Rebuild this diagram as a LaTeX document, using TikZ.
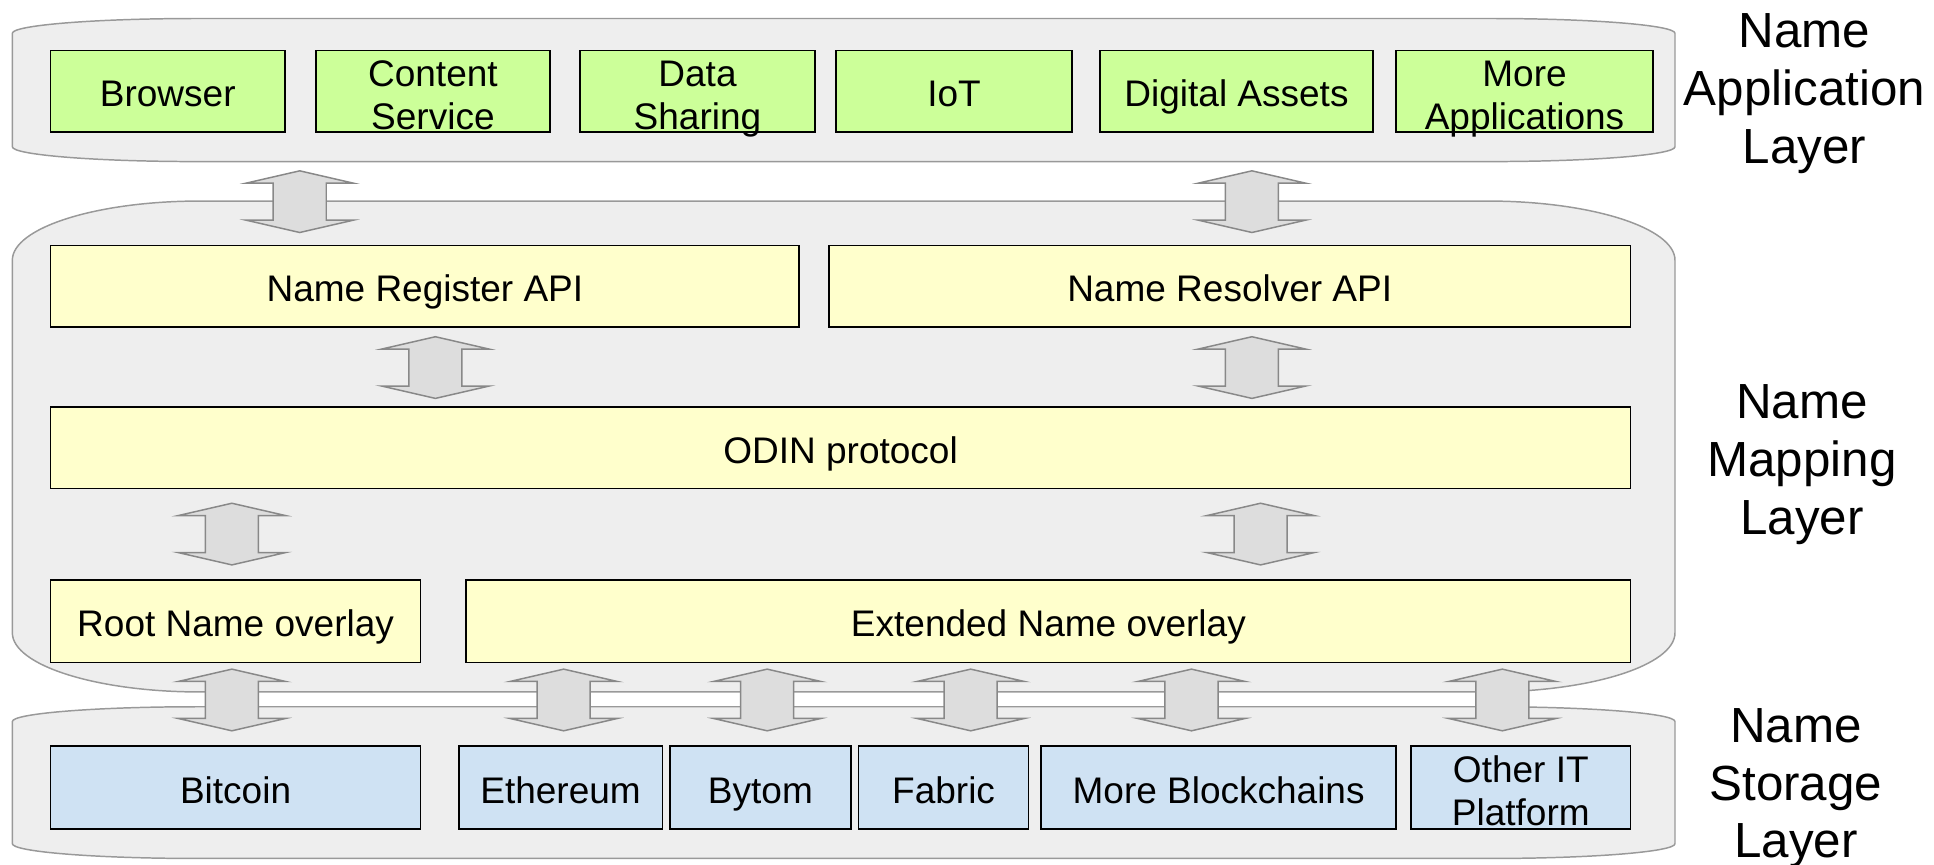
\documentclass[tikz,border=0pt]{standalone}
\usepackage{fontspec}
\setmainfont{Liberation Sans}

\definecolor{layerfill}{HTML}{EEEEEE}
\definecolor{layerline}{HTML}{999999}
\definecolor{appgreen}{HTML}{CCFF99}
\definecolor{mapyellow}{HTML}{FFFFCC}
\definecolor{storeblue}{HTML}{CFE2F3}
\definecolor{arrowfill}{HTML}{DDDDDD}
\definecolor{arrowline}{HTML}{888888}

% layer band: x1, y1, x2, y2, corner x radius, corner y radius
\newcommand{\layerband}[6]{%
	\filldraw [layer] (#1, #2 + #6) .. controls (#1, #2 + 0.45*#6) and (#1 + 0.45*#5, #2) .. (#1 + #5, #2)
		-- (#3 - #5, #2) .. controls (#3 - 0.45*#5, #2) and (#3, #2 + 0.45*#6) .. (#3, #2 + #6)
		-- (#3, #4 - #6) .. controls (#3, #4 - 0.45*#6) and (#3 - 0.45*#5, #4) .. (#3 - #5, #4)
		-- (#1 + #5, #4) .. controls (#1 + 0.45*#5, #4) and (#1, #4 - 0.45*#6) .. (#1, #4 - #6)
		-- cycle;%
}

% keeps every box label on the same baseline
\newcommand{\boxstrut}{\rule[-7.5pt]{0pt}{40.5pt}}
\newcommand{\linetop}{\rule{0pt}{22pt}}
\newcommand{\linebot}{\rule[-6.5pt]{0pt}{0pt}}

\tikzset{
	layer/.style = {fill = layerfill, draw = layerline, line width = 1.2pt},
	box/.style = {draw, line width = 1.3pt, inner sep = 0pt, align = center, font = \fontsize{30}{35}\selectfont,
		execute at end node = \boxstrut},
	twoline/.style = {align = center, inner sep = 0pt, font = \fontsize{30}{35}\selectfont, yshift = -5.5pt},
	appbox/.style = {box, fill = appgreen, minimum height = 66pt},
	mapbox/.style = {box, fill = mapyellow, minimum height = 66pt},
	storebox/.style = {box, fill = storeblue, minimum height = 67pt},
	layerlabel/.style = {align = center, font = \fontsize{40}{47}\selectfont},
	blockarrow/.style = {fill = arrowfill, draw = arrowline, line width = 1.2pt},
	updown/.pic = {
		\filldraw [blockarrow] (0, -25) -- (43.5, -15) -- (21.5, -15) -- (21.5, 15) -- (43.5, 15)
			-- (0, 25) -- (-43.5, 15) -- (-21.5, 15) -- (-21.5, -15) -- (-43.5, -15) -- cycle;
	}
}

\begin{document}
\begin{tikzpicture}[x = 1pt, y = -1pt]

	\useasboundingbox (0, 0) rectangle (1568, 701);

	% Layer bands

	\layerband{10}{15}{1358}{131}{150}{12}
	\layerband{10}{163}{1358}{561}{152}{48}
	\layerband{10}{573}{1358}{696}{150}{12}

	% Name application layer

	\node [appbox, minimum width = 190pt] (browser) at (136, 74) {Browser};
	\node [appbox, minimum width = 190pt, label = {[twoline] center:\linetop Content\\Service\linebot}] (content) at (351, 74) {};
	\node [appbox, minimum width = 191pt, label = {[twoline] center:\linetop Data\\Sharing\linebot}] (sharing) at (565.5, 74) {};
	\node [appbox, minimum width = 191pt] (iot) at (773.5, 74) {IoT};
	\node [appbox, minimum width = 221pt] (assets) at (1002.5, 74) {Digital Assets};
	\node [appbox, minimum width = 208pt, label = {[twoline] center:\linetop More\\Applications\linebot}] (moreapps) at (1236, 74) {};

	% Name mapping layer

	\node [mapbox, minimum width = 607pt] (register) at (344.5, 232) {Name Register API};
	\node [mapbox, minimum width = 650pt] (resolver) at (997, 232) {Name Resolver API};
	\node [mapbox, minimum width = 1281pt] (odin) at (681.5, 363) {ODIN protocol};
	\node [mapbox, minimum width = 300pt, minimum height = 67pt] (rootov) at (191, 503.5) {Root Name overlay};
	\node [mapbox, minimum width = 944pt, minimum height = 67pt] (extov) at (850, 503.5) {Extended Name overlay};

	% Name storage layer

	\node [storebox, minimum width = 300pt] (bitcoin) at (191, 638.5) {Bitcoin};
	\node [storebox, minimum width = 165pt] (ethereum) at (454.5, 638.5) {Ethereum};
	\node [storebox, minimum width = 147pt] (bytom) at (616.5, 638.5) {Bytom};
	\node [storebox, minimum width = 138pt] (fabric) at (765, 638.5) {Fabric};
	\node [storebox, minimum width = 288pt] (moreblocks) at (988, 638.5) {More Blockchains};
	\node [storebox, minimum width = 178pt, label = {[twoline] center:\linetop Other IT\\Platform\linebot}] (otherit) at (1233, 638.5) {};

	% Block arrows between layers and boxes

	\pic at (243, 163.5) {updown};
	\pic at (1015, 163.5) {updown};

	\pic at (353, 298) {updown};
	\pic at (1015, 298) {updown};

	\pic at (188, 433) {updown};
	\pic at (1022, 433) {updown};

	\foreach \x in {188, 457, 622, 787, 966, 1218}
		\pic at (\x, 567.5) {updown};

	% Layer names

	\node [layerlabel] (applabel) at (1463, 76) {Name\\Application\\Layer};
	\node [layerlabel] (maplabel) at (1461, 377) {Name\\Mapping\\Layer};
	\node [layerlabel] (storelabel) at (1456, 639) {Name\\Storage\\Layer};

\end{tikzpicture}
\end{document}
